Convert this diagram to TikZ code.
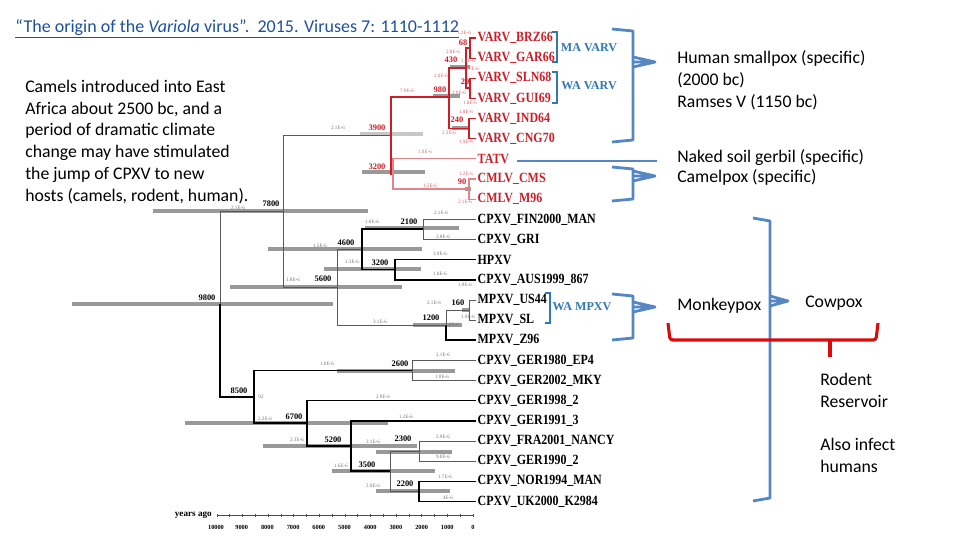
\documentclass[tikz,border=0pt]{standalone}
\usepackage{fontspec}
\setmainfont{Carlito}
\newfontfamily\treefont{Liberation Serif}
\newfontfamily\tipfont[FakeStretch=0.85]{Liberation Serif}
\usepackage{tikz}
\usetikzlibrary{calc,positioning}
\definecolor{linkblue}{RGB}{30,80,160}
\definecolor{braceblue}{RGB}{84,135,195}
\definecolor{cladeblue}{RGB}{50,120,180}
\definecolor{varvred}{RGB}{205,30,40}
\definecolor{bracered}{RGB}{220,10,10}

\begin{document}
\begin{tikzpicture}[x=0.025cm,y=-0.025cm,
  tipname/.style={anchor=west,inner xsep=1pt,inner ysep=0pt,font=\tipfont\bfseries\fontsize{10}{10}\selectfont},
  age/.style={inner sep=0pt,font=\treefont\bfseries\fontsize{6}{6}\selectfont},
  rate/.style={inner sep=0pt,text=black!55,font=\treefont\fontsize{3.6}{3.6}\selectfont},
  hpd/.style={draw=black!40,line width=3pt},
  greybr/.style={draw=black!65,line width=0.6pt},
  heavybr/.style={draw=black,line width=1.1pt},
  varvbr/.style={draw=varvred,line width=0.8pt},
  cmlvbr/.style={draw=varvred!55,line width=0.8pt},
  clade/.style={inner sep=0pt,text=cladeblue,font=\treefont\bfseries\fontsize{8.6}{8.6}\selectfont},
  note/.style={inner sep=0pt,anchor=west,align=left,font=\fontsize{12.6}{15.6}\selectfont},
  bluebrace/.style={draw=braceblue,line width=2pt,line join=round},
  redbrace/.style={draw=bracered,line width=2.2pt,rounded corners=2pt}]
  \useasboundingbox (0,0) rectangle (960,540);

  % title and notes
  \node[inner sep=0pt,anchor=west,text=linkblue,font=\fontsize{12.8}{15}\selectfont] (title) at (15,29)
    {\underline{“The origin of the \textit{Variola} virus”.\ \ 2015. Viruses 7: 1110-1112}};
  \node[note] (camels) at (25,142) {Camels introduced into East\\Africa about 2500 bc, and a\\period of dramatic climate\\change may have stimulated\\the jump of CPXV to new\\hosts (camels, rodent, human).};
  \node[note] (smallpox) at (677,80) {Human smallpox (specific)\\(2000 bc)\\Ramses V (1150 bc)};
  \node[note,font=\fontsize{12.6}{14.2}\selectfont] (gerbil) at (677,167) {Naked soil gerbil (specific)\\Camelpox (specific)};
  \node[note] (monkeypox) at (677,306) {Monkeypox};
  \node[note] (cowpox) at (805,303) {Cowpox};
  \node[note] (rodent) at (820,390) {Rodent\\Reservoir};
  \node[note] (humans) at (820,455) {Also infect\\humans};

  % HPD bars
  \foreach \y/\xa/\xb in {304/72/333, 211/153/368, 172/362/425, 96/433/460, 67/450/470,
      128/452/470, 189/465/471, 228/365/459, 249/268/422, 269/324/421, 287/230/402,
      325/413/462, 310/462/470, 371/337/455, 423/185/388, 446/263/417, 452/376/452,
      471/332/435, 491/376/450}
    \draw[hpd] (\xa,\y) -- (\xb,\y);
  \draw[hpd,draw=black!22] (360,134) -- (423,134);

  % tips
  \foreach \txt [count=\i from 1] in {VARV\_BRZ66,VARV\_GAR66,VARV\_SLN68,VARV\_GUI69,
      VARV\_IND64,VARV\_CNG70,TATV,CMLV\_CMS,CMLV\_M96}
    \node[tipname,text=varvred] (t\i) at (476,{38+20.15*(\i-1)}) {\txt};
  \foreach \txt [count=\i from 10] in {CPXV\_FIN2000\_MAN,CPXV\_GRI,HPXV,CPXV\_AUS1999\_867,
      MPXV\_US44,MPXV\_SL,MPXV\_Z96,CPXV\_GER1980\_EP4,CPXV\_GER2002\_MKY,CPXV\_GER1998\_2,
      CPXV\_GER1991\_3,CPXV\_FRA2001\_NANCY,CPXV\_GER1990\_2,CPXV\_NOR1994\_MAN,CPXV\_UK2000\_K2984}
    \node[tipname] (t\i) at (476,{38+20.15*(\i-1)}) {\txt};

  % internal nodes
  \coordinate (n68) at (470,48);
  \coordinate (n29) at (470,88);
  \coordinate (n430) at (466,68);
  \coordinate (n240) at (469,128.7);
  \coordinate (n980) at (449,97);
  \coordinate (n3900) at (391,135);
  \coordinate (n3200) at (393,174);
  \coordinate (ncml) at (469,189);
  \coordinate (n7800) at (283,211);
  \coordinate (n9800) at (220,304);
  \coordinate (n5600) at (337,287);
  \coordinate (n4600) at (362,249);
  \coordinate (n2100) at (423,229);
  \coordinate (n3200b) at (395,269.7);
  \coordinate (n1200) at (446,325);
  \coordinate (n160) at (469,310);
  \coordinate (n8500) at (254,397);
  \coordinate (n2600) at (412,370.5);
  \coordinate (n6700) at (307,423);
  \coordinate (n5200) at (351,446);
  \coordinate (n3500) at (390,471);
  \coordinate (n2300) at (419,451);
  \coordinate (n2200) at (419,491.4);

  % branches
  \draw[varvbr] (n68) |- (t1.west) (n68) |- (t2.west) (n29) |- (t3.west) (n29) |- (t4.west)
    (n240) |- (t5.west) (n240) |- (t6.west) (n430) |- (n68) (n430) |- (n29)
    (n980) |- (n430) (n980) |- (n240) (n3900) |- (n980) (n3900) |- (n3200);
  \draw[cmlvbr] (n3200) |- (t7.west) (n3200) |- (ncml) (ncml) |- (t8.west) (ncml) |- (t9.west);
  \draw[greybr] (n7800) |- (n3900) (n9800) |- (n7800) (n7800) |- (n5600) (n5600) |- (n4600)
    (n5600) |- (n1200) (n2100) |- (t10.west) (n2100) |- (t11.west) (n1200) |- (n160)
    (n160) |- (t14.west) (n160) |- (t15.west) (n2600) |- (t17.west) (n2600) |- (t18.west)
    (n2300) |- (t21.west) (n2300) |- (t22.west) (n3500) |- (n2300) (n3500) |- (n2200);
  \draw[heavybr] (n4600) |- (n2100) (n4600) |- (n3200b) (n3200b) |- (t12.west) (n3200b) |- (t13.west)
    (n1200) |- (t16.west) (n9800) |- (n8500) (n6700) |- (t19.west) (n5200) |- (t20.west)
    (n6700) |- (n5200) (n5200) |- (n3500) (n2200) |- (t23.west) (n2200) |- (t24.west);
  \draw[black,line width=0.8pt] (n8500) |- (n2600) (n8500) |- (n6700);

  % node ages
  \foreach \x/\y/\a [count=\i] in {377/128/3900, 440/90/980, 451/60/430, 463/43/68,
      465/82/29, 457/120/240, 377/167/3200, 462/182/90}
    \node[age,text=varvred] (ra\i) at (\x,\y) {\a};
  \foreach \x/\y/\a [count=\i] in {207/298/9800, 271/204/7800, 409/222/2100, 346/243/4600,
      380/263/3200, 323/279/5600, 431/318/1200, 458/303/160, 400/364/2600, 239/391/8500,
      294/417/6700, 333/440/5200, 403/439/2300, 367/465/3500, 405/484/2200}
    \node[age] (ba\i) at (\x,\y) {\a};

  % substitution rates
  \foreach \x/\y/\r [count=\i] in {464/33/1.2E-6, 453/52/2.8E-6, 468/61/2.3E-6, 441/76/2.0E-6,
      474/69/7E-6, 459/93/2.0E-6, 470/103/1.8E-6, 466/112/1.8E-6, 449/133/2.2E-6, 466/142/1.9E-6,
      407/91/7.9E-6, 425/152/1.0E-6, 466/174/1.2E-6, 430/186/1.5E-6, 465/202/2.1E-6}
    \node[rate,text=varvred!70] (rr\i) at (\x,\y) {\r};
  \foreach \x/\y/\r [count=\i] in {338/128/2.1E-6, 238/208/2.1E-6, 441/213/2.1E-6, 372/222/1.0E-6,
      443/237/2.8E-6, 320/246/1.5E-6, 440/254/3.9E-6, 352/262/1.3E-6, 440/274/1.0E-6, 293/280/1.8E-6,
      465/285/1.9E-6, 434/303/2.1E-6, 380/322/3.1E-6, 468/317/1.9E-6, 452/325/2.8E-6,
      327/364/1.0E-6, 443/355/2.1E-6, 442/377/1.0E-6, 383/397/2.9E-6, 265/419/2.2E-6,
      406/417/1.2E-6, 297/440/2.3E-6, 373/442/2.1E-6, 443/437/2.9E-6, 443/457/9.0E-6,
      341/466/1.6E-6, 373/486/2.0E-6, 445/477/1.7E-6, 448/498/4E-6, 261/397/92}
    \node[rate] (br\i) at (\x,\y) {\r};

  % time axis
  \node[age,anchor=east,font=\treefont\bfseries\fontsize{6.5}{6.5}\selectfont] (yearsago) at (212,515) {years ago};
  \draw[black!70,line width=0.6pt] (217,515) -- (473,515);
  \foreach \k in {0,...,20}
    \draw[black!70,line width=0.6pt] ({217+12.8*\k},513.5) -- ++(0,3);
  \foreach \t [count=\k from 0] in {10000,9000,8000,7000,6000,5000,4000,3000,2000,1000,0}
    \node[age,font=\treefont\bfseries\fontsize{4.5}{4.5}\selectfont] (tick\k) at ({216+25.7*\k},527) {\t};

  % clade brackets
  \draw[cladeblue,line width=0.8pt] (552,32) -| (557,62) -- (552,62);
  \draw[cladeblue,line width=0.8pt] (552,72) -| (557,103) -- (552,103);
  \draw[cladeblue,line width=0.8pt] (545,293) -| (550,323) -- (545,323);
  \node[clade] (mavarv) at (589,48) {MA VARV};
  \node[clade] (wavarv) at (589,86) {WA VARV};
  \node[clade] (wampxv) at (582,307) {WA MPXV};

  % hand drawn braces
  \draw[bluebrace] (612,29) -- (633,31) -- (633,140) -- (612,142);
  \draw[bluebrace] (633,57) -- (655,62) -- (633,67) (633,62) -- (655,62);
  \draw[bluebrace] (517,161) -- (657,161);
  \draw[bluebrace] (612,167) -- (633,169) -- (633,199) -- (612,201);
  \draw[bluebrace] (633,171) -- (655,176) -- (633,181) (633,176) -- (655,176);
  \draw[bluebrace] (612,294) -- (633,296) -- (633,338) -- (612,340);
  \draw[bluebrace] (633,302) -- (655,307) -- (633,312) (633,307) -- (655,307);
  \draw[bluebrace] (753,218) -- (770,221) -- (770,498) -- (753,501);
  \draw[bluebrace] (770,296) -- (788,301) -- (770,306) (770,301) -- (788,301);
  \draw[redbrace] (668,323) -- (670,340) -- (876,340) -- (878,323);
  \draw[redbrace] (830,340) -- (830,357);
\end{tikzpicture}
\end{document}
